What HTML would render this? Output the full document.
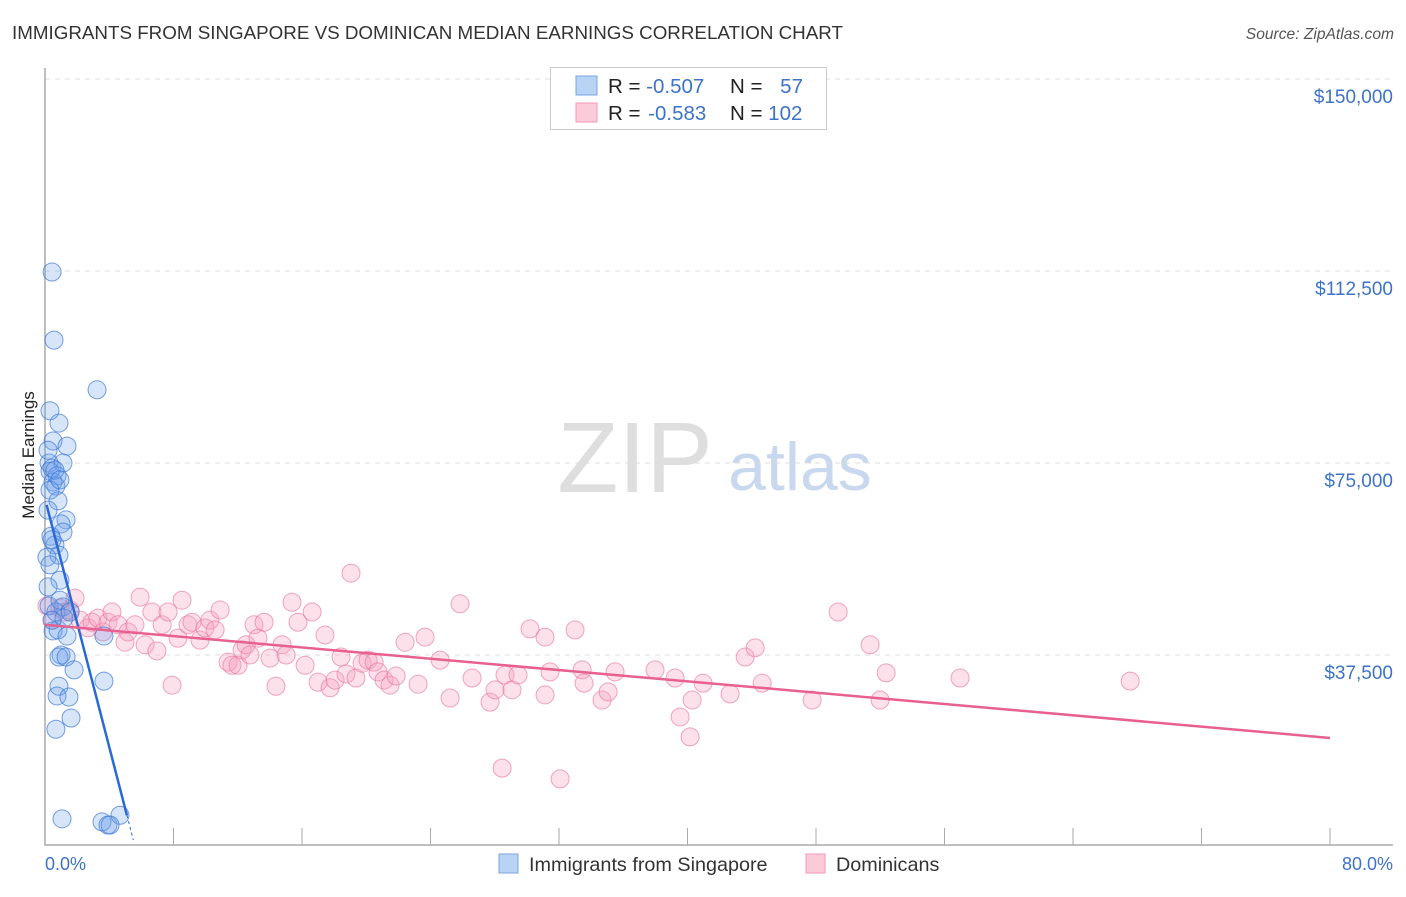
<!DOCTYPE html>
<html><head><meta charset="utf-8"><style>
body{margin:0;background:#fff;font-family:"Liberation Sans",sans-serif;}
svg text{font-family:"Liberation Sans",sans-serif;}
</style></head><body>
<svg id="chart" width="1406" height="892">
<text x="12" y="39" font-size="18.8" fill="#333">IMMIGRANTS FROM SINGAPORE VS DOMINICAN MEDIAN EARNINGS CORRELATION CHART</text>
<text x="1394" y="39" font-size="15.6" fill="#555" font-style="italic" text-anchor="end">Source: ZipAtlas.com</text>
<text x="635" y="492" font-size="100" fill="#dedede" font-family="Liberation Serif" text-anchor="middle">ZIP</text>
<text x="800" y="490" font-size="68" fill="#c8d8ee" text-anchor="middle">atlas</text>
<g id="grid"></g>
<g id="marks"></g>
<text transform="translate(34,455) rotate(-90)" font-size="17" fill="#222" text-anchor="middle">Median Earnings</text>
<g>
<rect x="550.5" y="67.5" width="276" height="62" fill="#fff" stroke="#ccc"/>
<rect x="576" y="76" width="21" height="19" fill="#b9d3f5" stroke="#7aa5e0"/>
<rect x="576" y="103" width="21" height="19" fill="#fccbd9" stroke="#f09ab6"/>
<text x="608" y="93" font-size="20.5" fill="#222">R = <tspan fill="#3d73c9">-0.507</tspan></text>
<text x="730" y="93" font-size="20.5" fill="#222">N = <tspan fill="#3d73c9" dx="12">57</tspan></text>
<text x="608" y="120" font-size="20.5" fill="#222">R = <tspan fill="#3d73c9" dx="2">-0.583</tspan></text>
<text x="730" y="120" font-size="20.5" fill="#222">N = <tspan fill="#3d73c9">102</tspan></text>
</g>
<g>
<rect x="499" y="854" width="19" height="19" fill="#b9d3f5" stroke="#7aa5e0"/>
<text x="529" y="871" font-size="19.8" fill="#333">Immigrants from Singapore</text>
<rect x="806" y="854" width="19" height="19" fill="#fccbd9" stroke="#f09ab6"/>
<text x="836" y="871" font-size="19.8" fill="#333">Dominicans</text>
</g>
<text x="45" y="870" font-size="18" fill="#3d73c9">0.0%</text>
<text x="1393" y="870" font-size="18" fill="#3d73c9" text-anchor="end">80.0%</text>
</svg>
<script>
const yTicks=[37500,75000,112500,150000];
const yTickLabels=["$37,500","$75,000","$112,500","$150,000"];
const xTicks=[0,8,16,24,32,40,48,56,64,72,80];
const blueX=[0.44,0.56,3.24,0.31,0.87,0.5,1.37,0.25,0.44,1.12,0.31,0.75,0.5,0.68,0.31,0.81,0.19,1.31,1.0,1.12,0.37,0.62,0.87,0.12,0.93,0.19,0.25,1.12,0.68,0.5,0.81,1.37,3.67,1.0,0.87,1.31,1.81,3.67,0.87,0.75,1.49,1.62,0.68,1.06,3.55,3.92,4.67,4.05,0.93,0.44,1.18,0.62,0.93,0.19,0.44,0.31,1.56];
const blueY=[112.3,99.0,89.3,85.2,82.8,79.3,78.3,75.0,74.0,75.0,73.4,72.5,71.3,70.5,69.7,67.6,65.8,63.9,63.1,61.5,60.7,59.0,57.0,56.6,52.1,50.8,47.1,46.9,45.9,42.2,42.4,41.2,41.2,37.5,37.1,37.1,34.6,32.4,31.4,29.5,29.3,25.2,23.0,5.5,4.9,4.3,6.2,4.3,48.2,44.3,44.7,73.6,71.7,77.5,60.0,55.1,45.9];
const pinkX=[0.12,0.44,0.93,1.25,1.56,1.87,2.18,2.68,2.93,3.30,3.61,3.92,4.17,4.55,4.98,5.17,5.60,5.92,6.23,6.66,6.97,7.29,7.66,7.91,8.28,8.53,8.90,9.15,9.65,9.96,10.27,10.59,10.90,11.40,11.64,12.02,12.27,12.52,12.76,13.01,13.26,13.64,14.01,14.38,14.76,15.01,15.38,15.75,16.19,16.63,17.00,17.43,17.75,18.06,18.43,18.74,19.05,19.36,19.74,20.11,20.49,20.73,21.11,21.48,21.86,22.42,23.23,23.66,24.60,25.22,25.84,26.59,27.71,28.02,28.64,29.08,29.45,30.20,31.13,31.13,31.44,32.07,33.00,33.44,33.56,34.68,35.06,35.49,37.98,39.23,39.54,40.16,40.29,40.97,42.65,43.59,44.21,44.65,47.76,49.38,51.37,51.99,52.37,56.97,67.56,28.46];
const pinkY=[47.1,44.3,46.7,45.9,46.3,48.6,44.3,42.8,43.9,44.7,42.0,43.9,45.9,43.4,40.0,42.0,43.4,48.8,39.5,45.9,38.3,43.4,45.9,31.6,40.8,48.2,43.4,43.9,40.4,42.8,44.3,42.4,46.3,36.1,35.5,35.5,38.5,39.5,37.5,43.4,40.8,43.9,36.9,31.4,39.5,37.5,47.8,43.9,35.5,45.9,32.2,41.4,31.1,32.6,37.1,33.8,53.5,33.0,35.9,36.5,36.1,34.2,32.6,31.6,33.4,40.0,31.8,41.0,36.5,29.1,47.5,33.0,28.3,30.7,33.6,30.7,33.6,42.6,41.0,29.7,34.2,13.3,42.4,34.6,32.0,28.7,30.3,34.2,34.6,33.0,25.4,21.5,28.7,32.0,29.9,37.1,38.9,32.0,28.7,45.9,39.5,28.7,34.0,33.0,32.4,15.4];
const blueTrend=[0.1,66.8,5.1,6.2,5.5];
const pinkTrend=[0,43.4,80,21.3];
const NS='http://www.w3.org/2000/svg';
const sx=v=>45+v*1285/80;
const sy=k=>847-k*1000*192/37500;
function mk(t,a,p){const e=document.createElementNS(NS,t);for(const k in a)e.setAttribute(k,a[k]);p.appendChild(e);return e;}
const grid=document.getElementById('grid'),marks=document.getElementById('marks');
yTicks.forEach((v,i)=>{const y=sy(v/1000);
 const l=mk('line',{x1:45,x2:1393,y1:y,y2:y,stroke:'#ddd','stroke-dasharray':'5,5'},grid);
 
 
 const t=mk('text',{x:1393,y:y+24,'font-size':19,fill:'#3d73c9','text-anchor':'end'},grid);t.textContent=yTickLabels[i];
 
 
});
const ax=mk('path',{d:'M45 68V845H1393',fill:'none',stroke:'#aaa','stroke-width':1.5},grid);


xTicks.forEach(v=>{const x=sx(v);const t=mk('line',{x1:x,x2:x,y1:828,y2:845,stroke:'#aaa'},grid);
 
 });
pinkX.forEach((v,i)=>{const c=mk('circle',{cx:sx(v),cy:sy(pinkY[i]),r:9,fill:'rgba(245,160,190,0.33)',stroke:'rgba(232,120,160,0.65)'},marks);
 
 });
blueX.forEach((v,i)=>{const c=mk('circle',{cx:sx(v),cy:sy(blueY[i]),r:9,fill:'rgba(110,160,235,0.28)',stroke:'rgba(60,120,215,0.7)'},marks);
 
 });
const by=x=>blueTrend[1]+(blueTrend[3]-blueTrend[1])*(x-blueTrend[0])/(blueTrend[2]-blueTrend[0]);
const bl=mk('line',{x1:sx(blueTrend[0]),y1:sy(blueTrend[1]),x2:sx(blueTrend[2]),y2:sy(blueTrend[3]),stroke:'#2a6ad6','stroke-width':2.5},marks);


const bd=mk('line',{x1:sx(blueTrend[2]),y1:sy(blueTrend[3]),x2:sx(blueTrend[4]),y2:sy(by(blueTrend[4])),stroke:'#2a6ad6','stroke-width':1,'stroke-dasharray':'3,3'},marks);


const pl=mk('line',{x1:sx(pinkTrend[0]),y1:sy(pinkTrend[1]),x2:sx(pinkTrend[2]),y2:sy(pinkTrend[3]),stroke:'#e8608f','stroke-width':2.5},marks);


</script>
</body></html>
